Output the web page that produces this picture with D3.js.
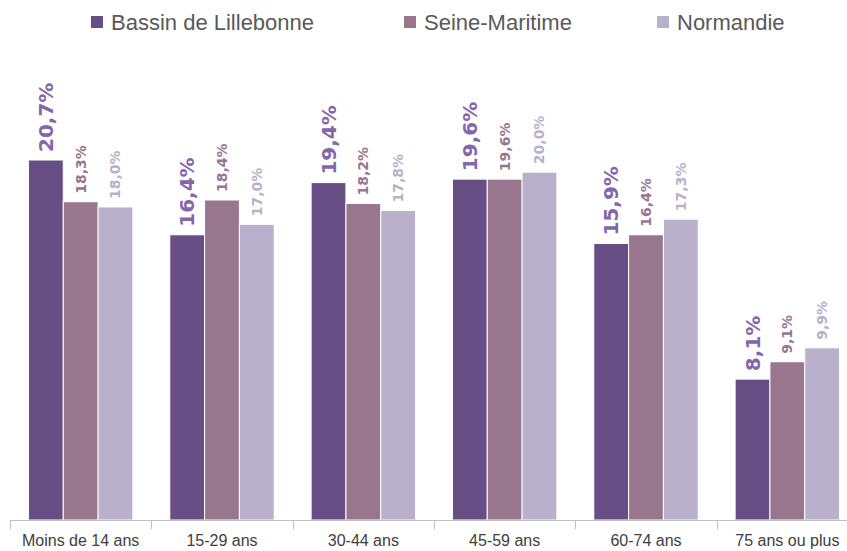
<!DOCTYPE html>
<html><head><meta charset="utf-8">
<script src="https://cdn.jsdelivr.net/npm/d3@7"></script>
<style>
html,body{margin:0;padding:0;background:#fff;}
svg{display:block;}
</style></head>
<body>
<svg id="chart" width="847" height="551"></svg>
<script>
const categories = ["Moins de 14 ans","15-29 ans","30-44 ans","45-59 ans","60-74 ans","75 ans ou plus"];
const seriesNames = ["Bassin de Lillebonne","Seine-Maritime","Normandie"];
const bassin = [20.7,16.4,19.4,19.6,15.9,8.1];
const seine = [18.3,18.4,18.2,19.6,16.4,9.1];
const normandie = [18.0,17.0,17.8,20.0,17.3,9.9];
const barColors = ["#674f86","#98768e","#b9b0cb"];
const labelColors = ["#8466ad","#98768e","#b9b0cb"];
const seriesValues = [bassin, seine, normandie];

const svg = d3.select("#chart");
const baseY = 520;
const x0 = d3.scaleBand().domain(categories).range([10, 858]).padding(0);
const x1 = d3.scaleBand().domain(seriesNames).range([0, x0.bandwidth()]).paddingInner(0).paddingOuter(0.53);
const y = d3.scaleLinear().domain([0, 20.7]).range([baseY, 160]);

const fmt = v => v.toFixed(1).replace(".", ",") + "%";

// bars
seriesNames.forEach((s, si) => {
  const g = svg.append("g");
  g.selectAll("rect").data(categories).join("rect")
    .attr("x", c => x0(c) + x1(s))
    .attr("y", (c, i) => y(seriesValues[si][i]))
    .attr("width", x1.bandwidth())
    .attr("height", (c, i) => baseY - y(seriesValues[si][i]))
    .attr("fill", barColors[si])
    .attr("stroke", "#fff").attr("stroke-width", 1);
  g.selectAll("text").data(categories).join("text")
    .attr("transform", (c, i) => {
      const cx = x0(c) + x1(s) + x1.bandwidth() / 2 + (si === 0 ? 7 : 5);
      const ty = y(seriesValues[si][i]) - 8;
      return `translate(${cx},${ty}) rotate(-90)`;
    })
    .attr("text-anchor", "start")
    .attr("font-family", "DejaVu Sans, sans-serif")
    .attr("font-weight", "bold")
    .attr("font-size", si === 0 ? 20 : 14)
    .attr("fill", labelColors[si])
    .text((c, i) => fmt(seriesValues[si][i]));
});

// axis
const axisG = svg.append("g").attr("transform", `translate(0,${baseY})`);
axisG.append("line").attr("x1", 10).attr("x2", 847).attr("y1", 0.5).attr("y2", 0.5)
  .attr("stroke", "#bfbfbf");
axisG.selectAll("line.tick").data(categories).join("line").attr("class", "tick")
  .attr("x1", c => Math.round(x0(c)) + 0.5).attr("x2", c => Math.round(x0(c)) + 0.5)
  .attr("y1", 0).attr("y2", 9).attr("stroke", "#bfbfbf");
const bottomAxis = d3.axisBottom(x0).tickSize(0).tickPadding(0);
const ax = svg.append("g").attr("transform", `translate(0,${baseY})`).call(bottomAxis);
ax.select(".domain").remove();
ax.selectAll("text")
  .attr("dy", 0).attr("y", 26)
  .attr("font-family", "Liberation Sans Narrow, Arial Narrow, sans-serif")
  .attr("font-size", 16).attr("fill", "#404040");

// legend
const legendX = [91, 404, 657];
const lg = svg.append("g");
seriesNames.forEach((s, i) => {
  lg.append("rect").attr("x", legendX[i]).attr("y", 16).attr("width", 12).attr("height", 12).attr("fill", barColors[i]);
  lg.append("text").attr("x", legendX[i] + 20).attr("y", 30)
    .attr("font-family", "Liberation Sans Narrow, Arial Narrow, sans-serif")
    .attr("font-size", 22).attr("fill", "#595959").text(s);
});
</script>
</body></html>
